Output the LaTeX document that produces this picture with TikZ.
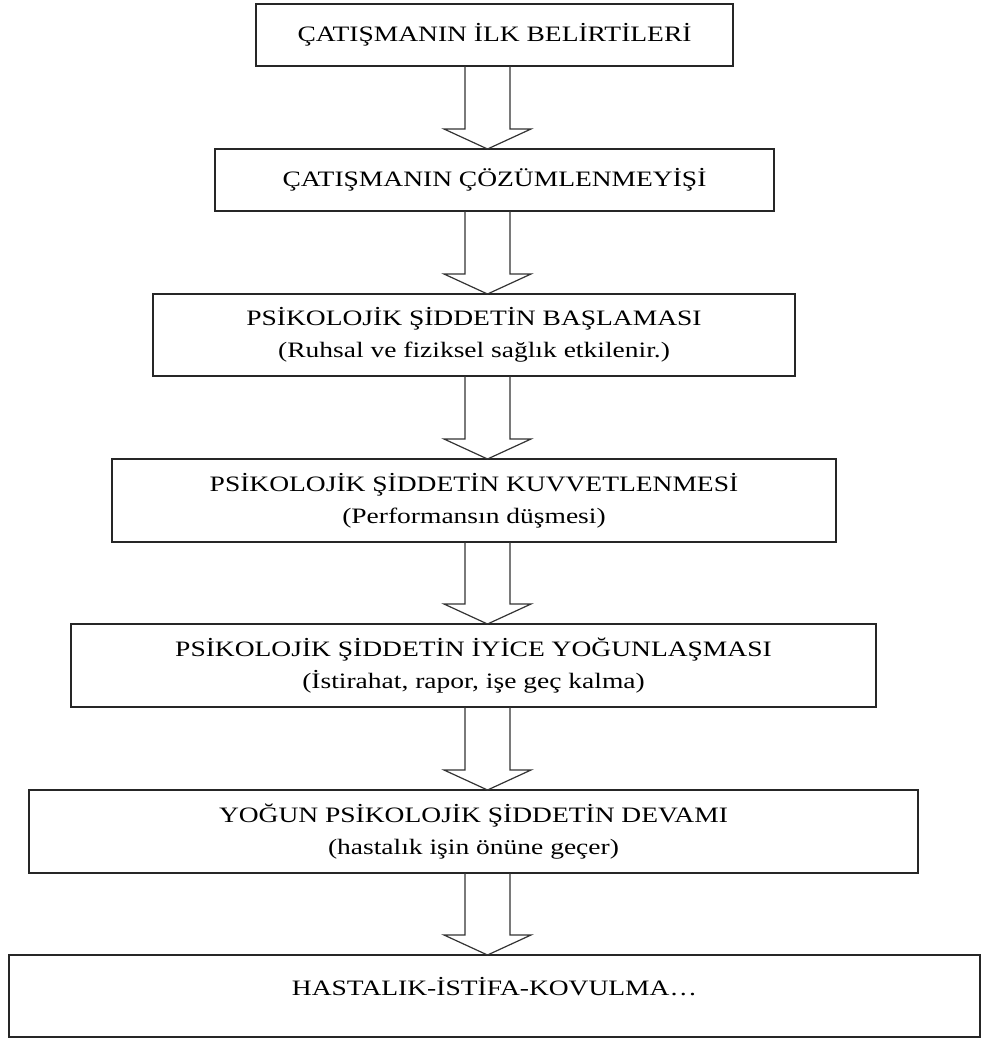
\documentclass[tikz,border=0pt]{standalone}
\usepackage{fontspec}
\setmainfont{Liberation Serif}[FakeStretch=1.25]
\usetikzlibrary{calc}
\begin{document}
\begin{tikzpicture}[x=0.75pt,y=-0.75pt,
  stagefont/.style={font=\fontsize{16.5}{24}\selectfont},
  stage/.style={draw=black!85, line width=1.4pt, inner sep=0pt, outer sep=0pt,
    align=center, stagefont},
  sz/.style 2 args={minimum width=#1*0.75pt, minimum height=#2*0.75pt},
  blockarrow/.style={draw=black!80, line width=0.9pt, line join=miter}]
\useasboundingbox (0,0) rectangle (981,1039);

% the seven stages
\node[stage, sz={477}{62}] (b1) at (494.5,35)  {ÇATIŞMANIN İLK BELİRTİLERİ};
\node[stage, sz={559}{62}] (b2) at (494.5,180) {ÇATIŞMANIN ÇÖZÜMLENMEYİŞİ};
\node[stage, sz={642}{82}] (b3) at (474,335)   {PSİKOLOJİK ŞİDDETİN BAŞLAMASI\\(Ruhsal ve fiziksel sağlık etkilenir.)};
\node[stage, sz={724}{83}] (b4) at (474,500.5) {PSİKOLOJİK ŞİDDETİN KUVVETLENMESİ\\(Performansın düşmesi)};
\node[stage, sz={805}{83}] (b5) at (473.5,665.5) {PSİKOLOJİK ŞİDDETİN İYİCE YOĞUNLAŞMASI\\(İstirahat, rapor, işe geç kalma)};
\node[stage, sz={889}{83}] (b6) at (473.5,831.5) {YOĞUN PSİKOLOJİK ŞİDDETİN DEVAMI\\(hastalık işin önüne geçer)};
\node[stage, sz={971}{82}] (b7) at (494.5,996) {};
\node[stagefont, inner sep=0pt] (b7t) at ($(b7.center)+(0,-9)$) {HASTALIK-İSTİFA-KOVULMA…};

% axis of the block arrows
\coordinate (ax) at (487.5,0);

% hollow block arrows between consecutive stages
\foreach \a/\b in {b1/b2,b2/b3,b3/b4,b4/b5,b5/b6,b6/b7}{
  \draw[blockarrow]
    ($(\a.south -| ax)+(-22.5,0)$) -- ($(\b.north -| ax)+(-22.5,-20)$)
    -- ($(\b.north -| ax)+(-43.5,-20)$) -- (\b.north -| ax)
    -- ($(\b.north -| ax)+(43.5,-20)$) -- ($(\b.north -| ax)+(22.5,-20)$)
    -- ($(\a.south -| ax)+(22.5,0)$);
}
\end{tikzpicture}
\end{document}
